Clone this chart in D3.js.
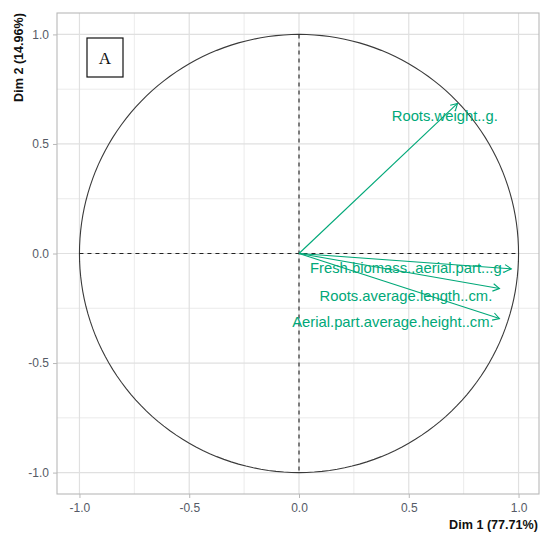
<!DOCTYPE html>
<html>
<head>
<meta charset="utf-8">
<script src="https://cdn.jsdelivr.net/npm/d3@7"></script>
<style>
  html, body { margin: 0; padding: 0; background: #fff; }
  svg { display: block; }
</style>
</head>
<body>
<svg id="chart" width="550" height="543"></svg>
<script>
// ---- data ----
const variables = [
  "Roots.weight..g.",
  "Fresh.biomass..aerial.part...g.",
  "Roots.average.length..cm.",
  "Aerial.part.average.height..cm."
];
const dim1 = [0.722, 0.967, 0.913, 0.913];
const dim2 = [0.685, -0.070, -0.160, -0.297];
// label anchor positions (repelled) in dim units
const labelDim1 = [0.664, 0.496, 0.487, 0.428];
const labelDim2 = [0.626, -0.064, -0.192, -0.311];
const majorTicks = [-1.0, -0.5, 0.0, 0.5, 1.0];
const minorTicks = [-0.75, -0.25, 0.25, 0.75];
const xTitle = "Dim 1 (77.71%)";
const yTitle = "Dim 2 (14.96%)";
const panelTag = "A";

// ---- layout ----
const svg = d3.select("#chart");
const pLeft = 57, pRight = 539, pTop = 13, pBottom = 494;
const x = d3.scaleLinear().domain([-1.1, 1.1]).range([pLeft + 0.5, pRight + 1.5]);
const y = d3.scaleLinear().domain([-1.1, 1.1]).range([pBottom + 0.5, pTop - 0.5]);
const green = "#00a878";
const font = "'Liberation Sans', Arial, sans-serif";

// grid
const grid = svg.append("g");
minorTicks.forEach(t => {
  grid.append("line").attr("x1", x(t)).attr("x2", x(t)).attr("y1", pTop).attr("y2", pBottom)
    .attr("stroke", "#e6e6e6").attr("stroke-width", 0.8);
  grid.append("line").attr("y1", y(t)).attr("y2", y(t)).attr("x1", pLeft).attr("x2", pRight)
    .attr("stroke", "#e6e6e6").attr("stroke-width", 0.8);
});
majorTicks.forEach(t => {
  grid.append("line").attr("x1", x(t)).attr("x2", x(t)).attr("y1", pTop).attr("y2", pBottom)
    .attr("stroke", "#e0e0e0").attr("stroke-width", 1.2);
  grid.append("line").attr("y1", y(t)).attr("y2", y(t)).attr("x1", pLeft).attr("x2", pRight)
    .attr("stroke", "#e0e0e0").attr("stroke-width", 1.2);
});

// panel border
svg.append("rect").attr("x", pLeft).attr("y", pTop).attr("width", pRight - pLeft).attr("height", pBottom - pTop)
  .attr("fill", "none").attr("stroke", "#b8b8b8").attr("stroke-width", 1.1);

// axes
const fmt = d => d.toFixed(1);
const xAxis = d3.axisBottom(x).tickValues(majorTicks).tickFormat(fmt).tickSize(4).tickPadding(5);
const yAxis = d3.axisLeft(y).tickValues(majorTicks).tickFormat(fmt).tickSize(4).tickPadding(4);
const gx = svg.append("g").attr("transform", `translate(0,${pBottom})`).call(xAxis);
const gy = svg.append("g").attr("transform", `translate(${pLeft},0)`).call(yAxis);
[gx, gy].forEach(g => {
  g.select(".domain").remove();
  g.selectAll(".tick line").attr("stroke", "#b8b8b8");
  g.selectAll(".tick text").attr("fill", "#555a66").style("font-family", font).style("font-size", "12px");
});

// axis titles
svg.append("text").attr("x", 538).attr("y", 529).attr("text-anchor", "end")
  .style("font-family", font).style("font-size", "12.6px").style("font-weight", "bold").attr("fill", "#111")
  .text(xTitle);
svg.append("text").attr("transform", `translate(23,${pTop}) rotate(-90)`).attr("text-anchor", "end")
  .style("font-family", font).style("font-size", "12.6px").style("font-weight", "bold").attr("fill", "#111")
  .text(yTitle);

// correlation circle
const circ = d3.range(0, 361, 2).map(a => [Math.cos(a * Math.PI / 180), Math.sin(a * Math.PI / 180)]);
svg.append("path").datum(circ)
  .attr("d", d3.line().x(d => x(d[0])).y(d => y(d[1])))
  .attr("fill", "none").attr("stroke", "#3a3a3a").attr("stroke-width", 1.1);

// dashed axes lines
svg.append("line").attr("x1", x(-1)).attr("x2", x(1)).attr("y1", y(0)).attr("y2", y(0))
  .attr("stroke", "#222").attr("stroke-width", 1.1).attr("stroke-dasharray", "4,4");
svg.append("line").attr("x1", x(0)).attr("x2", x(0)).attr("y1", y(1)).attr("y2", y(-1))
  .attr("stroke", "#222").attr("stroke-width", 1.1).attr("stroke-dasharray", "4,4");

// arrows
const arrows = svg.append("g");
variables.forEach((v, i) => {
  const x0 = x(0), y0 = y(0), x1 = x(dim1[i]), y1 = y(dim2[i]);
  arrows.append("line").attr("x1", x0).attr("y1", y0).attr("x2", x1).attr("y2", y1)
    .attr("stroke", green).attr("stroke-width", 1.1);
  const ang = Math.atan2(y1 - y0, x1 - x0);
  const L = 7.5, spread = Math.PI / 6;
  const p1 = [x1 - L * Math.cos(ang - spread), y1 - L * Math.sin(ang - spread)];
  const p2 = [x1 - L * Math.cos(ang + spread), y1 - L * Math.sin(ang + spread)];
  arrows.append("path").attr("d", `M${p1[0]},${p1[1]}L${x1},${y1}L${p2[0]},${p2[1]}`)
    .attr("fill", "none").attr("stroke", green).attr("stroke-width", 1.1);
});

// labels
variables.forEach((v, i) => {
  svg.append("text").attr("x", x(labelDim1[i])).attr("y", y(labelDim2[i]))
    .attr("text-anchor", "middle").attr("dominant-baseline", "central")
    .style("font-family", font).style("font-size", "14.8px").attr("fill", green)
    .text(v);
});

// panel tag box
svg.append("rect").attr("x", 87).attr("y", 38).attr("width", 36).attr("height", 39)
  .attr("fill", "#fff").attr("stroke", "#111").attr("stroke-width", 1.2);
svg.append("text").attr("x", 105).attr("y", 58).attr("text-anchor", "middle").attr("dominant-baseline", "central")
  .style("font-family", "'Liberation Serif', 'Times New Roman', serif").style("font-size", "17px").attr("fill", "#111")
  .text(panelTag);
</script>
</body>
</html>
